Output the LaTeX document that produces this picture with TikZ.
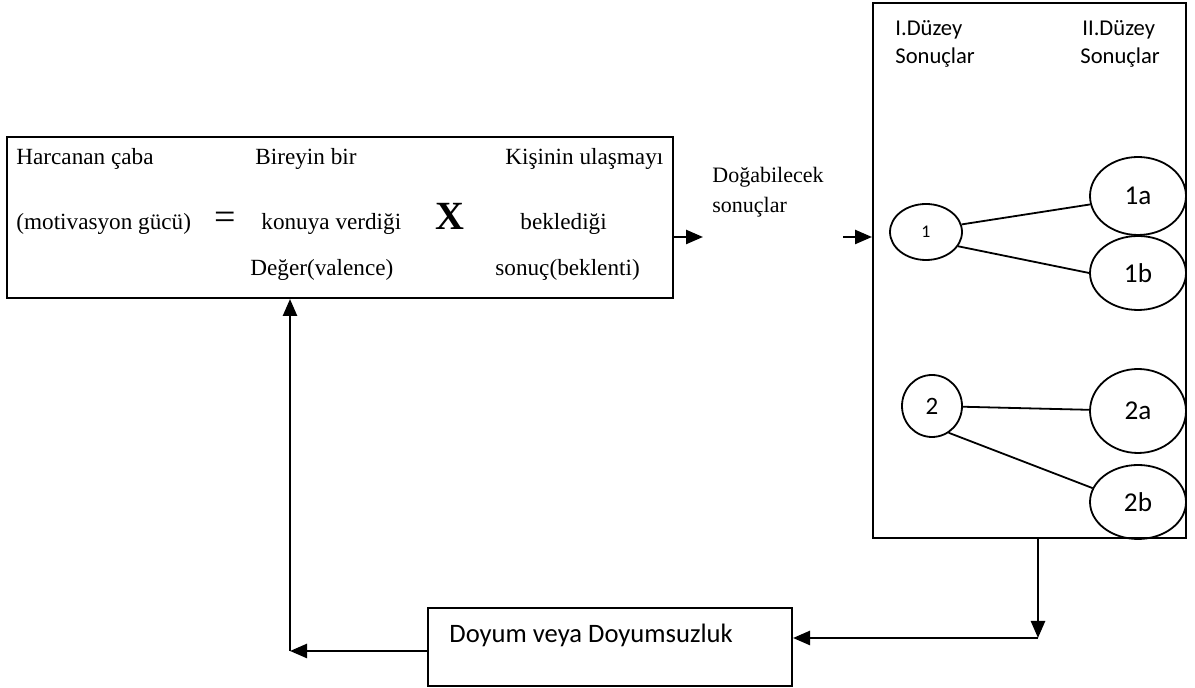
\documentclass[tikz,border=0pt]{standalone}
\usepackage{fontspec}
\setmainfont{Liberation Serif}
\newfontfamily\calibri{Carlito}
\usetikzlibrary{positioning,arrows.meta,shapes.geometric}

\tikzset{
  panel/.style={draw, line width=1pt, inner sep=0pt},
  oval/.style={draw, ellipse, line width=0.9pt, inner sep=0pt, font=\calibri\fontsize{13.6}{15}\selectfont},
  tie/.style={line width=0.9pt},
  flow/.style={line width=1.25pt, -{Triangle[length=8.5pt, width=7pt]}},
  rm/.style={inner sep=0pt, anchor=base west, font=\fontsize{11.6}{13}\selectfont},
  sf/.style={inner sep=0pt, anchor=base west, font=\calibri\fontsize{11.3}{13}\selectfont}
}

\begin{document}
\begin{tikzpicture}[x=0.5pt, y=-0.5pt]
\useasboundingbox (0,0) rectangle (1195,688);

\node[panel, minimum width=333pt, minimum height=80.5pt] (main) at (340,217.5) {};
\node[panel, minimum width=156.5pt, minimum height=267.5pt] (outcomes) at (1029.5,270.5) {};
\node[panel, minimum width=182pt, minimum height=39pt] (doyum) at (610,647) {};

% motivasyon formulu
\node[rm] (effort1) at (16,165) {Harcanan çaba};
\node[rm] (value1) at (255,165) {Bireyin bir};
\node[rm] (expect1) at (505,165) {Kişinin ulaşmayı};
\node[rm] (effort2) at (16,230) {(motivasyon gücü)};
\node[rm, font=\fontsize{19}{20}\selectfont] (equals) at (214,230) {=};
\node[rm] (value2) at (261,230) {konuya verdiği};
\node[rm, font=\bfseries\fontsize{20}{22}\selectfont] (times) at (435,230) {X};
\node[rm] (expect2) at (520,230) {beklediği};
\node[rm] (value3) at (250,276) {Değer(valence)};
\node[rm] (expect3) at (495,276) {sonuç(beklenti)};

\node[rm, font=\fontsize{11}{13}\selectfont] (possible1) at (712,183) {Doğabilecek};
\node[rm, font=\fontsize{11}{13}\selectfont] (possible2) at (712,213) {sonuçlar};

\node[sf] (lvlA1) at (895,36) {I.Düzey};
\node[sf] (lvlA2) at (895,64) {Sonuçlar};
\node[sf] (lvlB1) at (1082,36) {II.Düzey};
\node[sf] (lvlB2) at (1080,64) {Sonuçlar};

\node[oval, minimum width=36pt, minimum height=28pt, font=\calibri\fontsize{8.9}{10}\selectfont] (o1) at (926,232) {1};
\node[oval, minimum width=48pt, minimum height=39pt] (o1a) at (1138,196) {1a};
\node[oval, minimum width=48pt, minimum height=37pt] (o1b) at (1138,273) {1b};
\node[oval, minimum width=30pt, minimum height=31pt, font=\calibri\fontsize{12.5}{14}\selectfont] (o2) at (932,406) {2};
\node[oval, minimum width=48pt, minimum height=42pt] (o2a) at (1138,411) {2a};
\node[oval, minimum width=48pt, minimum height=37pt] (o2b) at (1138,502) {2b};

\draw[tie] (o1.12) -- (o1a.190);
\draw[tie] (o1.-24) -- (o1b.180);
\draw[tie] (o2) -- (o2a);
\draw[tie] (o2.-58) -- (o2b.163);

\node[sf, font=\calibri\fontsize{13.3}{15}\selectfont] (doyumtext) at (449,643) {Doyum veya Doyumsuzluk};

\coordinate (out1) at (703,237);
\coordinate (in1) at (843,237);
\coordinate (turn) at (1038,638);
\coordinate (corner) at (290,651);

\draw[flow] (out1 -| main.east) -- (out1);
\draw[flow] (in1) -- (in1 -| outcomes.west);
\draw[flow] (turn |- outcomes.south) -- (turn);
\draw[flow] (turn) -- (turn -| doyum.east);
\draw[flow] (corner -| doyum.west) -- (corner);
\draw[flow] (corner) -- (corner |- main.south);
\end{tikzpicture}
\end{document}
